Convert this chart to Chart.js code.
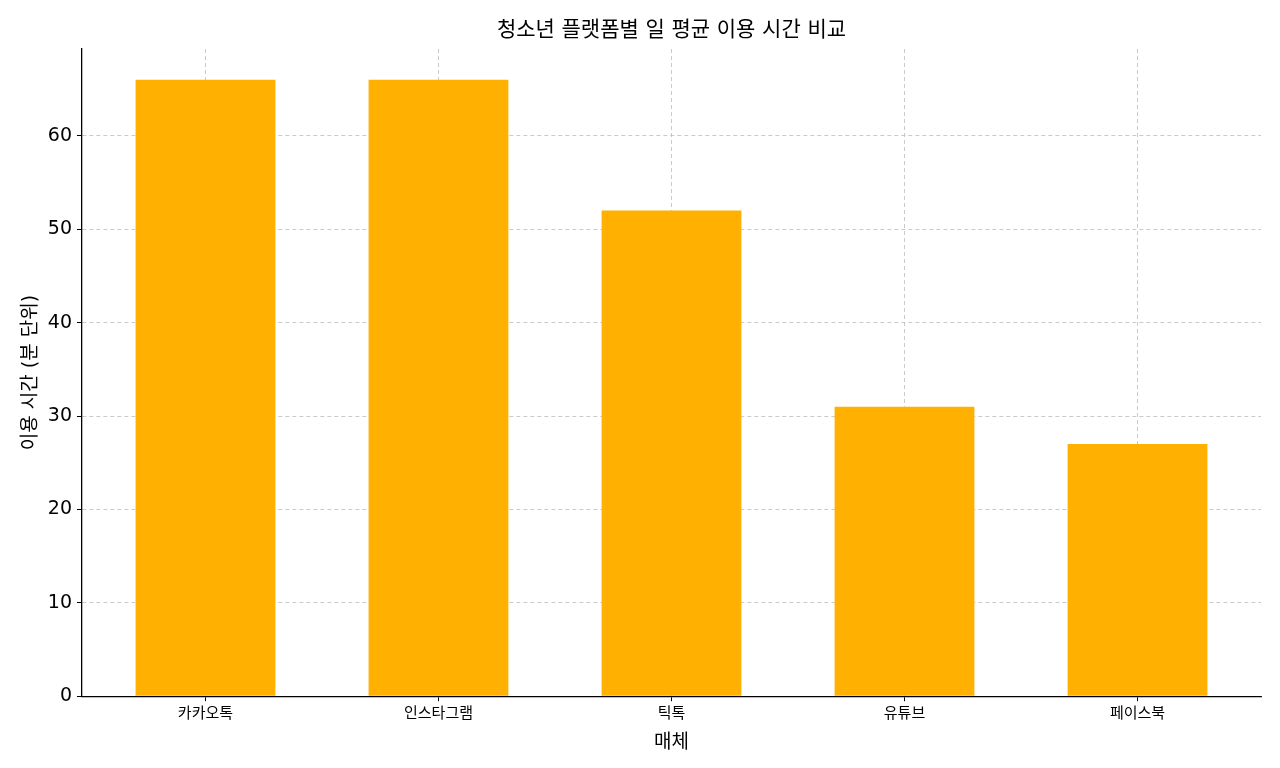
<!DOCTYPE html>
<html><head><meta charset="utf-8">
<script src="https://cdn.jsdelivr.net/npm/chart.js@4"></script>
<style>html,body{margin:0;padding:0;background:#fff}#wrap{width:1280px;height:768px}</style>
</head><body><div id="wrap"><canvas id="c" width="1280" height="768"></canvas></div>
<script>
const categories = ["카카오톡", "인스타그램", "틱톡", "유튜브", "페이스북"];
const values = [66, 66, 52, 31, 27];
const yTicks = [0, 10, 20, 30, 40, 50, 60];
const titleText = "청소년 플랫폼별 일 평균 이용 시간 비교";
const xLabel = "매체";
const yLabel = "이용 시간 (분 단위)";

const FONT = "'DejaVu Sans', 'Noto Sans CJK KR', sans-serif";
const titlePlugin = {
  id: 'areaTitle',
  afterDraw(chart) {
    const ctx = chart.ctx, a = chart.chartArea;
    ctx.save();
    ctx.fillStyle = '#000';
    ctx.font = "21px " + FONT;
    ctx.textAlign = 'center';
    ctx.textBaseline = 'middle';
    ctx.fillText(titleText, (a.left + a.right) / 2, 31);
    ctx.restore();
  }
};

new Chart(document.getElementById('c'), {
  type: 'bar',
  data: {
    datasets: [{ data: values.map((v, i) => ({ x: i, y: v })), backgroundColor: '#FFB000', borderWidth: 0,
      barPercentage: 0.6, categoryPercentage: 1.0 }]
  },
  options: {
    responsive: false, animation: false,
    layout: { padding: { top: 49, right: 19, left: 16, bottom: 10 } },
    plugins: { legend: { display: false }, tooltip: { enabled: false }, title: { display: false } },
    scales: {
      x: {
        type: 'linear', min: -0.53, max: 4.53, offset: false,
        afterBuildTicks(axis) { axis.ticks = categories.map((c, i) => ({ value: i })); },
        border: { display: true, color: '#000', width: 1.3, dash: [4, 3] },
        grid: { offset: false, display: true, color: '#bdbdbd', lineWidth: 0.8,
          drawTicks: true, tickLength: 5, tickColor: '#000', tickBorderDash: [], tickWidth: 1 },
        ticks: { color: '#000', font: { family: FONT, size: 15 }, padding: 4, maxRotation: 0,
          callback: (v) => categories[v] },
        title: { display: true, text: xLabel, color: '#000', font: { family: FONT, size: 19 }, padding: { top: 4 } }
      },
      y: {
        min: 0, max: 69.3,
        afterBuildTicks(axis) { axis.ticks = yTicks.map(v => ({ value: v })); },
        border: { display: true, color: '#000', width: 1.3, dash: [4, 3] },
        grid: { display: true, color: '#bdbdbd', lineWidth: 0.8,
          drawTicks: true, tickLength: 5, tickColor: '#000', tickBorderDash: [], tickWidth: 1 },
        ticks: { color: '#000', font: { family: FONT, size: 19 }, padding: 5 },
        title: { display: true, text: yLabel, color: '#000', font: { family: FONT, size: 19 }, padding: { bottom: 0 } }
      }
    }
  },
  plugins: [titlePlugin]
});
</script></body></html>
